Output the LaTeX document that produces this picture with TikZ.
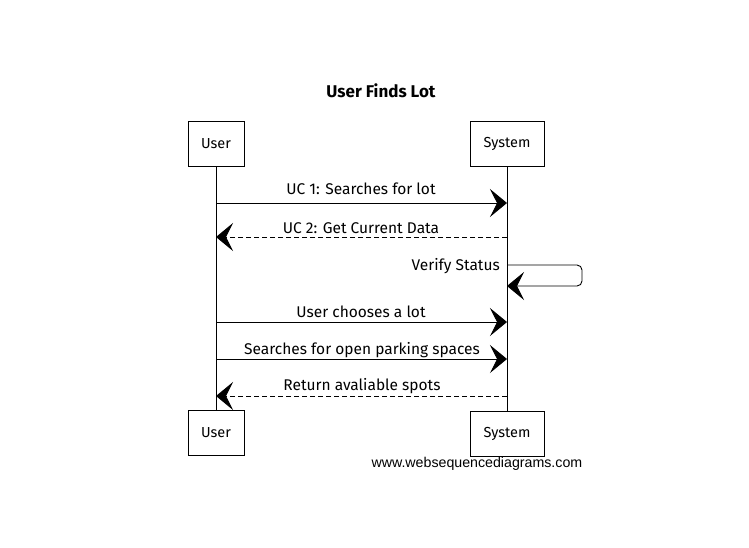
\documentclass[tikz,border=0pt]{standalone}
\usepackage{fontspec}
\setmainfont{Fira Sans}
\newfontfamily\wmfont{Liberation Sans}
\usetikzlibrary{arrows.meta}
\begin{document}
\begin{tikzpicture}[x=1pt,y=-1pt,
  actor/.style={draw,line width=0.8pt,minimum width=56pt,minimum height=45pt,inner sep=0pt,font=\fontsize{14.5}{16}\selectfont},
  lifeline/.style={line width=0.6pt},
  msg/.style={line width=0.9pt,-{Stealth[length=17pt,width=28pt,inset=7pt]}},
  reply/.style={msg,dash pattern=on 5pt off 3pt},
  lbl/.style={font=\fontsize{15.5}{17}\selectfont,inner sep=0pt}]
\useasboundingbox (0,0) rectangle (749,547);
\node[font=\bfseries\fontsize{17}{19}\selectfont] (title) at (381,91) {User Finds Lot};
\node[actor] (ut) at (216,143.5) {User};
\node[actor,minimum width=74pt] (st) at (507,144) {System};
\node[actor] (ub) at (216,433) {User};
\node[actor,minimum width=74pt] (sb) at (507,433.5) {System};
\draw[lifeline] (ut) -- (ub);
\draw[lifeline] (st) -- (sb);
\coordinate (y1) at (0,203);
\coordinate (y2) at (0,237);
\coordinate (y3) at (0,265);
\coordinate (y3b) at (0,286);
\coordinate (y4) at (0,322);
\coordinate (y5) at (0,359);
\coordinate (y6) at (0,396);
\draw[msg] (ut |- y1) -- (st |- y1);
\node[lbl] (l1) at (361,189) {UC 1: Searches for lot};
\draw[reply] (st |- y2) -- (ut |- y2);
\node[lbl] (l2) at (361,228) {UC 2: Get Current Data};
\coordinate (sr) at (582,0);
\draw[msg,rounded corners=5pt] (st |- y3) -- (sr |- y3) -- (sr |- y3b) -- (st |- y3b);
\node[lbl,anchor=east] (l3) at (500,266) {Verify Status};
\draw[msg] (ut |- y4) -- (st |- y4);
\node[lbl] (l4) at (361,312) {User chooses a lot};
\draw[msg] (ut |- y5) -- (st |- y5);
\node[lbl] (l5) at (362,350) {Searches for open parking spaces};
\draw[reply] (st |- y6) -- (ut |- y6);
\node[lbl] (l6) at (362,386) {Return avaliable spots};
\node[font=\wmfont\fontsize{14.2}{16}\selectfont,anchor=west] (wm) at (368,464) {www.websequencediagrams.com};
\end{tikzpicture}
\end{document}
